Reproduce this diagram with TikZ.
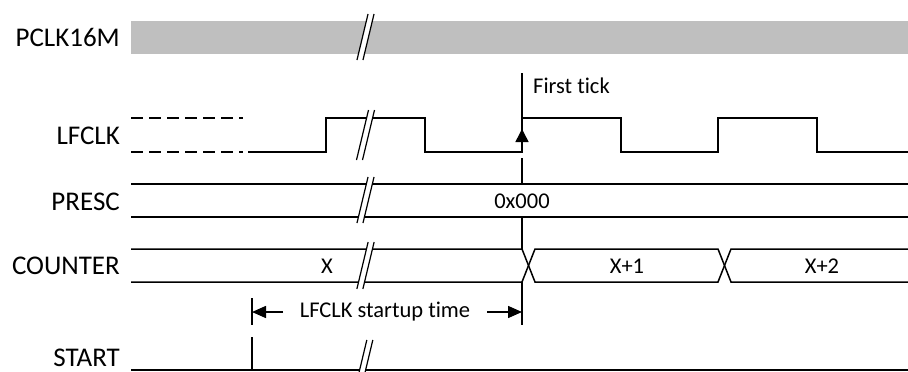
\documentclass[tikz,border=0pt]{standalone}
\usepackage{fontspec}
\setmainfont{Carlito}[Ligatures=NoCommon]
\usetikzlibrary{arrows.meta}
\definecolor{bargray}{RGB}{191,191,191}
\begin{document}
\begin{tikzpicture}[x=1pt,y=-1pt,
  sig/.style={line width=1.5pt, line join=miter},
  slash/.style={line width=1.2pt},
  lbl/.style={anchor=east, font=\fontsize{27}{27}\selectfont, inner sep=0pt},
  val/.style={font=\fontsize{22.5}{22.5}\selectfont, inner sep=0pt},
  tip/.style={-{Triangle[length=14pt,width=12pt]}, line width=1.5pt}]
\newcommand\brkmark[2]{%
  \fill[white] ({362.5+0.12*(#2-#1)},#1) -- ({368.5+0.12*(#2-#1)},#1) -- ({368.5-0.12*(#2-#1)},#2) -- ({362.5-0.12*(#2-#1)},#2) -- cycle;
  \draw[slash] ({362.5+0.12*(#2-#1)},#1) -- ({362.5-0.12*(#2-#1)},#2);
  \draw[slash] ({368.5+0.12*(#2-#1)},#1) -- ({368.5-0.12*(#2-#1)},#2);}
\useasboundingbox (0,0) rectangle (908,372);
% labels
\node[lbl] (lp) at (120,37) {PCLK16M};
\node[lbl] (ll) at (120,136) {LFCLK};
\node[lbl] (lr) at (120,202) {PRESC};
\node[lbl] (lc) at (120,266) {COUNTER};
\node[lbl] (ls) at (120,358) {START};
% PCLK16M bar
\fill[bargray] (131,21) rectangle (908,54);
\brkmark{14}{60}
% LFCLK
\draw[sig, dash pattern=on 12pt off 6pt] (131,118) -- (243,118);
\draw[sig, dash pattern=on 12pt off 6pt] (131,152) -- (243,152);
\draw[sig] (248,152) -- (326,152) -- (326,118) -- (425,118) -- (425,152) -- (522,152) -- (522,118)
  -- (621,118) -- (621,152) -- (718,152) -- (718,118) -- (817,118) -- (817,152) -- (908,152);
\brkmark{110}{160}
% PRESC
\draw[sig] (131,184) -- (908,184);
\draw[sig] (131,217) -- (908,217);
\node[val] (v0) at (522,201) {0x000};
\brkmark{177}{223}
% COUNTER
\draw[sig] (131,249) -- (522,249) -- (535,282) -- (718,282) -- (731,249) -- (908,249);
\draw[sig] (131,282) -- (522,282) -- (535,249) -- (718,249) -- (731,282) -- (908,282);
\node[val] (vx) at (327,266) {X};
\node[val] (vx1) at (627,266) {X+1};
\node[val] (vx2) at (822,266) {X+2};
\brkmark{242}{289}
% START
\draw[sig] (131,370) -- (908,370);
\draw[sig] (252,337) -- (252,370);
\brkmark{340}{376}
% first tick marker
\coordinate (t0) at (522,73);
\coordinate (t1) at (522,150);
\draw[sig] (t0) -- (t1);
\draw[-{Triangle[length=13pt,width=13pt]}, line width=1.5pt] (522,144) -- (522,129);
\draw[sig] (522,158) -- (522,184);
\draw[sig] (522,217) -- (522,249);
\draw[sig] (522,282) -- (522,325);
\node[val, anchor=west] (ft) at (533,86) {First tick};
% startup time
\draw[sig] (252,298) -- (252,325);
\node[val] (st) at (385,312) {LFCLK startup time};
\coordinate (sl) at (252,312);
\coordinate (sr) at (522,312);
\draw[tip] (283,312) -- (sl);
\draw[tip] (487,312) -- (sr);
\end{tikzpicture}
\end{document}
